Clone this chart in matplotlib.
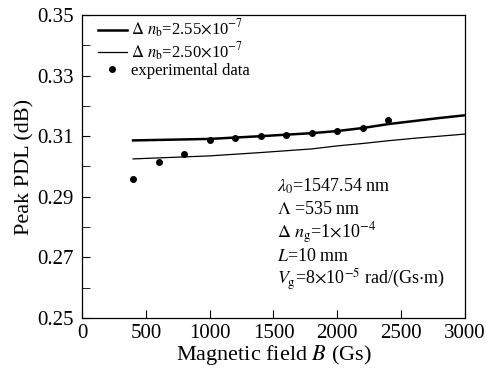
#
#  plot.py
#
#  Peak PDL vs magnetic field, two simulated curves and measured points
#
################################################################

import numpy as np
import matplotlib.pylab as plt

plt.rcParams['font.family'] = ['Liberation Serif', 'DejaVu Serif']
plt.rcParams['mathtext.fontset'] = 'stix'

#  simulated curves
b_sim = [400, 1000, 1400, 1800, 2000, 2200, 2400, 2600, 2800, 3000]
pdl_255 = [0.3086, 0.3091, 0.3100, 0.3110, 0.3117, 0.3127, 0.3140, 0.3150, 0.3160, 0.3169]
pdl_250 = [0.3025, 0.3035, 0.3046, 0.3058, 0.3068, 0.3076, 0.3085, 0.3093, 0.3100, 0.3107]

#  experimental data
b_exp = [400, 600, 800, 1000, 1200, 1400, 1600, 1800, 2000, 2200, 2400]
pdl_exp = [0.2959, 0.3015, 0.3041, 0.3087, 0.3094, 0.3101, 0.3105, 0.3112, 0.3116, 0.3128, 0.3153]

xticks = [0, 500, 1000, 1500, 2000, 2500, 3000]
yticks = [0.25, 0.27, 0.29, 0.31, 0.33, 0.35]

params = [r"$\lambda_0$=1547.54 nm",
          r"$\Lambda$ =535 nm",
          r"$\Delta\ n_{\rm g}$=1$\times$10$^{-4}$",
          r"$L$=10 mm",
          r"$V_{\rm g}$=8$\times$10$^{-5}$ rad/(Gs$\cdot$m)"]

fig = plt.figure(figsize=(4.86, 3.71), dpi=100)
ax = fig.add_axes([0.1687, 0.1429, 0.7881, 0.8167])

ax.plot(b_sim, pdl_255, color='k', linewidth=1.8,
        label=r"$\Delta\ n_{\rm b}$=2.55$\times$10$^{-7}$")
ax.plot(b_sim, pdl_250, color='k', linewidth=0.9,
        label=r"$\Delta\ n_{\rm b}$=2.50$\times$10$^{-7}$")
ax.plot(b_exp, pdl_exp, 'o', color='k', markersize=4,
        label="experimental data")

ax.set_xlim(0, 3000)
ax.set_ylim(0.25, 0.35)
ax.set_xticks(xticks)
ax.set_yticks(yticks)
ax.set_yticks(np.arange(0.26, 0.35, 0.02), minor=True)
ax.set_yticklabels(["%.2f" % v for v in yticks])
ax.tick_params(direction='in', labelsize=15, length=6, top=False, right=False)
ax.tick_params(axis='x', pad=4)
ax.tick_params(axis='y', pad=6)
ax.tick_params(which='minor', direction='in', length=6)
for s in ax.spines.values():
    s.set_linewidth(0.9)

ax.set_xlabel(r"Magnetic field $B$ (Gs)", fontsize=16, labelpad=0)
ax.set_ylabel("Peak PDL (dB)", fontsize=16, labelpad=2)

ax.legend(loc='upper left', bbox_to_anchor=(0.025, 1.012), frameon=False,
          fontsize=12, handlelength=1.7, handletextpad=0.25,
          labelspacing=0.0, borderaxespad=0.0)

for i, t in enumerate(params):
    ax.text(0.51, 0.435 - i*0.077, t, transform=ax.transAxes, fontsize=13,
            va='center', ha='left')

plt.savefig("out.png", dpi=100)
